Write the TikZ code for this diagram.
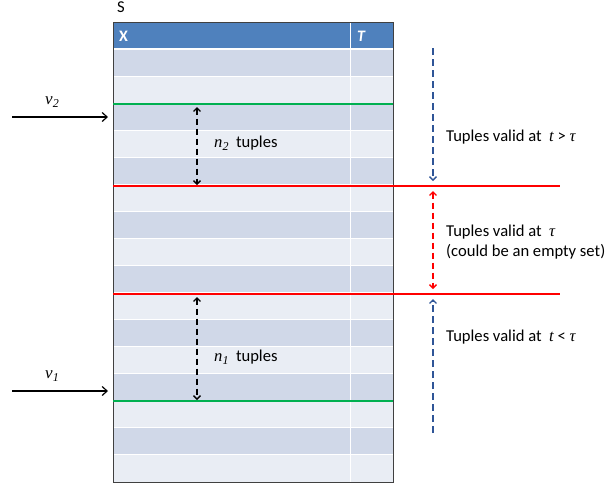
\documentclass[tikz,border=0pt]{standalone}
\usepackage{fontspec}
\setmainfont{Carlito}
\newfontfamily\myserif{Liberation Serif}
\usetikzlibrary{arrows.meta}
\definecolor{hdr}{HTML}{4F81BD}
\definecolor{rowd}{HTML}{D0D8E8}
\definecolor{rowl}{HTML}{E9EDF4}
\definecolor{grn}{HTML}{00B050}
\definecolor{dblue}{HTML}{2F5597}
\newcommand{\sub}[1]{\raisebox{-0.35ex}{\fontsize{12}{14}\selectfont #1}}
\tikzset{
  lbl/.style={font=\fontsize{16.6}{20}\selectfont, inner sep=0pt, anchor=west, align=left},
  inarrow/.style={line width=1.2pt, -{Straight Barb[length=5pt,width=9pt]}},
  dasharrow/.style={line width=1.4pt, dash pattern=on 6pt off 4pt, {Straight Barb[length=3.5pt,width=7pt]}-{Straight Barb[length=3.5pt,width=7pt]}},
  bluearrow/.style={dblue, line width=1.4pt, dash pattern=on 7pt off 4pt, -{Straight Barb[length=3.5pt,width=7pt]}},
}
\begin{document}
\begin{tikzpicture}[x=1pt,y=-1pt]
\useasboundingbox (0,0) rectangle (606,488);
% header
\fill[hdr] (113,22) rectangle (393,49);
% rows
\foreach \i in {0,...,15}{
  \pgfmathsetmacro{\ya}{49+27.06*\i}
  \pgfmathsetmacro{\yb}{49+27.06*(\i+1)}
  \pgfmathparse{mod(\i,2)==0 ? 1 : 0}
  \ifnum\pgfmathresult=1
    \fill[rowd] (113,\ya) rectangle (393,\yb);
  \else
    \fill[rowl] (113,\ya) rectangle (393,\yb);
  \fi
  \draw[white, line width=1pt] (113,\ya) -- (393,\ya);
}
\draw[white, line width=2pt] (113,49) -- (393,49);
\draw[white, line width=1pt] (350,22) -- (350,482);
\draw[black!75, line width=1pt] (113,22) rectangle (393,482);
% header texts
\node[lbl, text=white, font=\fontsize{16}{18}\selectfont\bfseries] (hx) at (119,36) {X};
\node[lbl, text=white, font=\fontsize{16}{18}\selectfont\bfseries\itshape] (ht) at (357,36) {T};
\node[lbl] (s) at (117,7) {S};
% green and red lines
\coordinate (g2a) at (113,104); \coordinate (g2b) at (393,104);
\coordinate (g1a) at (113,401); \coordinate (g1b) at (393,401);
\coordinate (r1a) at (113,186); \coordinate (r1b) at (560,186);
\coordinate (r2a) at (113,294); \coordinate (r2b) at (560,294);
\draw[grn, line width=1.5pt] (g2a) -- (g2b);
\draw[grn, line width=1.5pt] (g1a) -- (g1b);
\draw[red, line width=1.5pt] (r1a) -- (r1b);
\draw[red, line width=1.5pt] (r2a) -- (r2b);
% input arrows
\coordinate (v2s) at (12,117); \coordinate (v2e) at (108,117);
\coordinate (v1s) at (12,391); \coordinate (v1e) at (108,391);
\draw[inarrow] (v2s) -- (v2e);
\draw[inarrow] (v1s) -- (v1e);
\node[font=\fontsize{17}{20}\selectfont\myserif\itshape, inner sep=0pt] (v2) at (52,102) {v\sub{2}};
\node[font=\fontsize{17}{20}\selectfont\myserif\itshape, inner sep=0pt] (v1) at (52,376) {v\sub{1}};
% n arrows
\coordinate (n2t) at (197,107); \coordinate (n2b) at (197,185);
\coordinate (n1t) at (197,297); \coordinate (n1b) at (197,400);
\draw[dasharrow] (n2t) -- (n2b);
\draw[dasharrow] (n1t) -- (n1b);
\node[lbl] (n2) at (214,143) {{\myserif\itshape n\sub{2}}\ \ tuples};
\node[lbl] (n1) at (214,357) {{\myserif\itshape n\sub{1}}\ \ tuples};
% right arrows
\coordinate (bt) at (433,48); \coordinate (btb) at (433,181);
\coordinate (rt) at (433,191); \coordinate (rb) at (433,289);
\coordinate (bb) at (433,433); \coordinate (bbt) at (433,299);
\draw[bluearrow] (bt) -- (btb);
\draw[bluearrow] (bb) -- (bbt);
\draw[dasharrow, red] (rt) -- (rb);
\node[lbl] (t1) at (446,137) {Tuples valid at\ \ {\myserif\itshape t} \textgreater\ {\myserif\itshape τ}};
\node[lbl] (t2) at (446,242) {Tuples valid at\ \ {\myserif\itshape τ}\\(could be an empty set)};
\node[lbl] (t3) at (446,337) {Tuples valid at\ \ {\myserif\itshape t} \textless\ {\myserif\itshape τ}};
\end{tikzpicture}
\end{document}
